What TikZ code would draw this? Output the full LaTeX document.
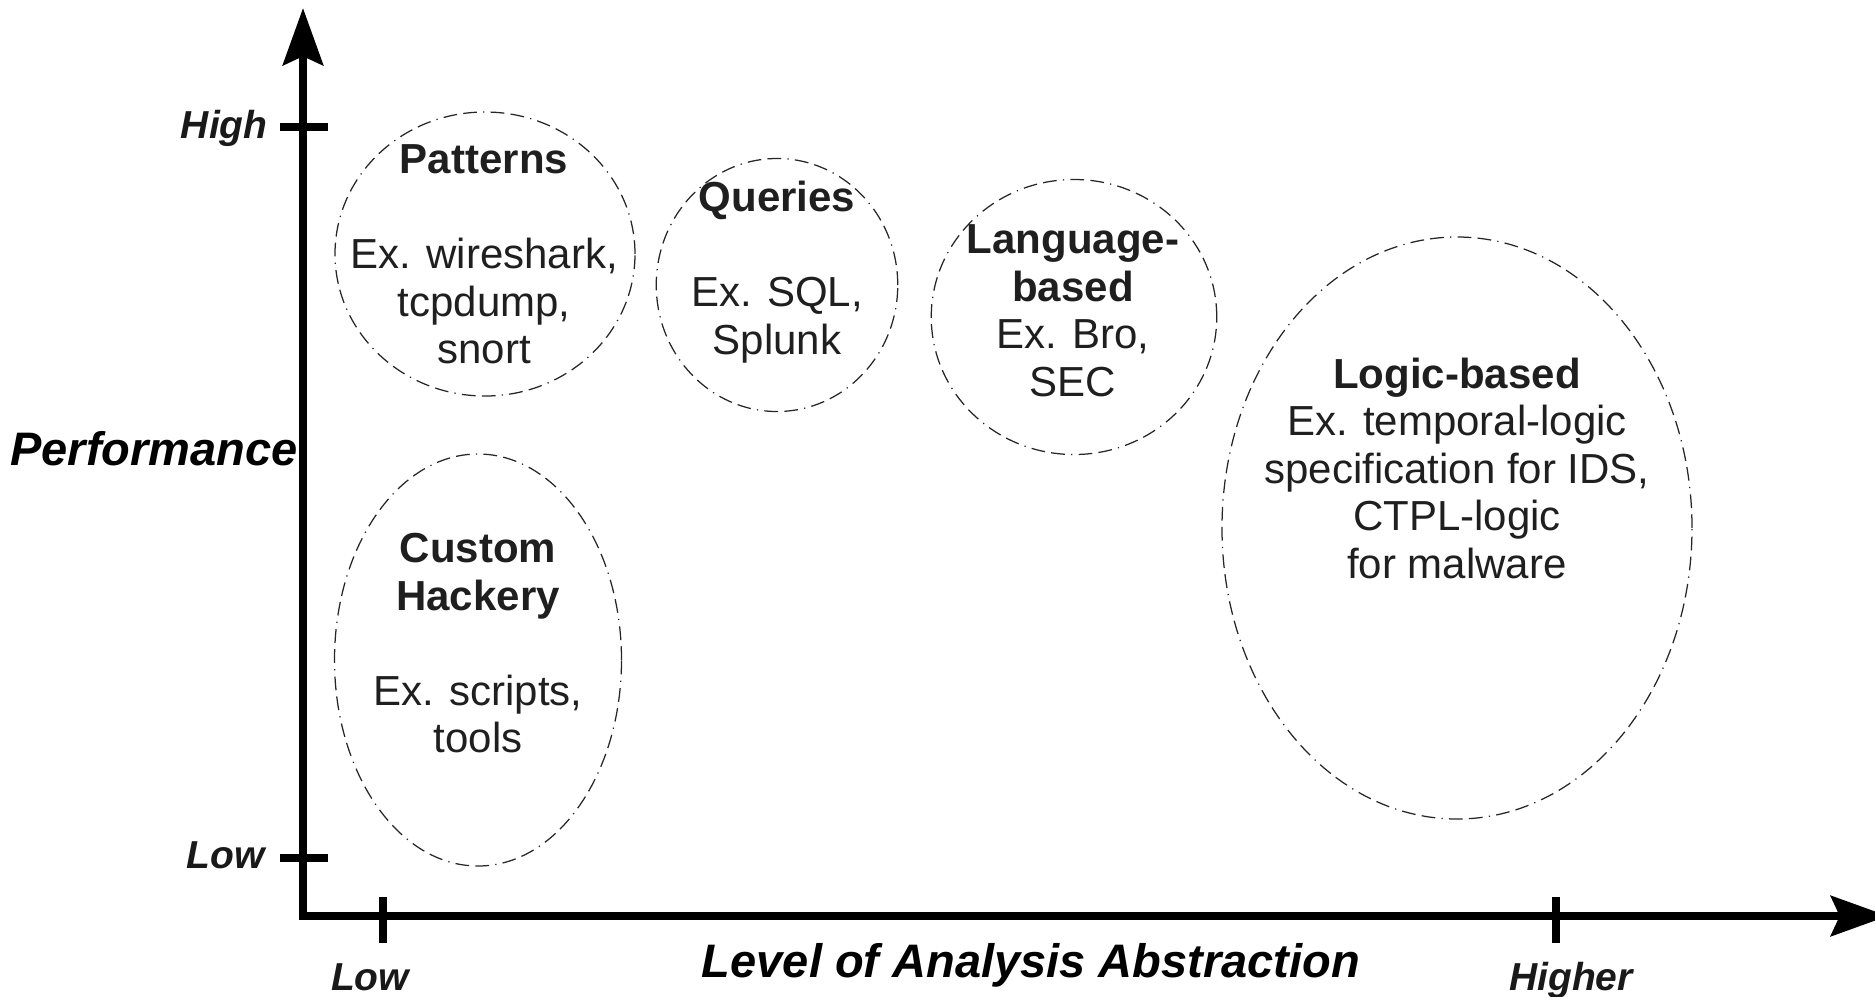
\documentclass[tikz,border=0pt]{standalone}
\usepackage{fontspec}
\setmainfont{Liberation Sans}
\usetikzlibrary{arrows.meta,shapes.geometric}
\tikzset{
  axis/.style={line width=3.4pt, line join=miter, draw=black},
  tick/.style={line width=3pt, draw=black},
  blob/.style={ellipse, draw=black!85, line width=0.5pt, inner sep=0pt, outer sep=0pt,
    dash pattern=on 5.5pt off 2.5pt on 5.5pt off 2.5pt on 0.5pt off 2.5pt},
  txt/.style={align=center, inner sep=0pt, text=black!88,
    font=\fontsize{16.8pt}{19pt}\selectfont},
  ticklab/.style={inner sep=0pt, text=black!90, font=\fontsize{15.6pt}{18pt}\selectfont\bfseries\itshape},
  axlab/.style={inner sep=0pt, text=black, font=\fontsize{18.8pt}{22pt}\selectfont\bfseries\itshape},
  tip/.tip={Stealth[length=22.8pt, width=16pt, inset=3.5pt]}
}
\begin{document}
\begin{tikzpicture}[x=0.4pt,y=-0.4pt]
\clip (0,0) rectangle (1875,996);
\path[use as bounding box] (0,0) rectangle (1875,996);

% axes
\coordinate (origin) at (303,916);
\coordinate (ytip) at (303,8);
\coordinate (xtip) at (1888,916);
\draw[axis, {tip}-{tip}] (ytip) -- (origin) -- (xtip);

% y ticks
\coordinate (hiL) at (280,127); \coordinate (hiR) at (328,127);
\coordinate (loL) at (280,858); \coordinate (loR) at (328,858);
\draw[tick] (hiL) -- (hiR);
\draw[tick] (loL) -- (loR);
% x ticks
\coordinate (xlT) at (383,897); \coordinate (xlB) at (383,943);
\coordinate (xhT) at (1556,897); \coordinate (xhB) at (1556,943);
\draw[tick] (xlT) -- (xlB);
\draw[tick] (xhT) -- (xhB);

% axis labels
\node[ticklab, anchor=base east] (lHigh) at (268,138) {High};
\node[ticklab, anchor=base east] (lLowY) at (265,868) {Low};
\node[ticklab, anchor=base] (lLowX) at (370,990) {Low};
\node[ticklab, anchor=base] (lHigher) at (1571,990) {Higher};
\node[axlab, anchor=base west] (lPerf) at (10,465) {Performance};
\node[axlab, anchor=base] (lLevel) at (1031,977) {Level of Analysis Abstraction};

% ellipses
\node[blob, minimum width=120pt, minimum height=113.6pt] (ePat) at (485,254) {};
\node[blob, minimum width=96.6pt, minimum height=101.2pt] (eQue) at (777,285) {};
\node[blob, minimum width=114.2pt, minimum height=110pt] (eLan) at (1074,317) {};
\node[blob, minimum width=188pt, minimum height=232.8pt] (eLog) at (1457,528) {};
\node[blob, minimum width=114.8pt, minimum height=164.8pt] (eCus) at (478,660) {};

% texts
\node[txt] (tPat) at (484,254.5) {\textbf{Patterns}\\[19pt]Ex. wireshark,\\tcpdump,\\snort};
\node[txt] (tQue) at (777,272) {\textbf{Queries}\\[19pt]Ex. SQL,\\Splunk};
\node[txt] (tLan) at (1073,310.5) {\textbf{Language-}\\\textbf{based}\\Ex. Bro,\\SEC};
\node[txt] (tLog) at (1457,468) {\textbf{Logic-based}\\Ex. temporal-logic\\specification for IDS,\\CTPL-logic\\for malware};
\node[txt] (tCus) at (478,643.5) {\textbf{Custom}\\\textbf{Hackery}\\[19pt]Ex. scripts,\\tools};
\end{tikzpicture}
\end{document}
